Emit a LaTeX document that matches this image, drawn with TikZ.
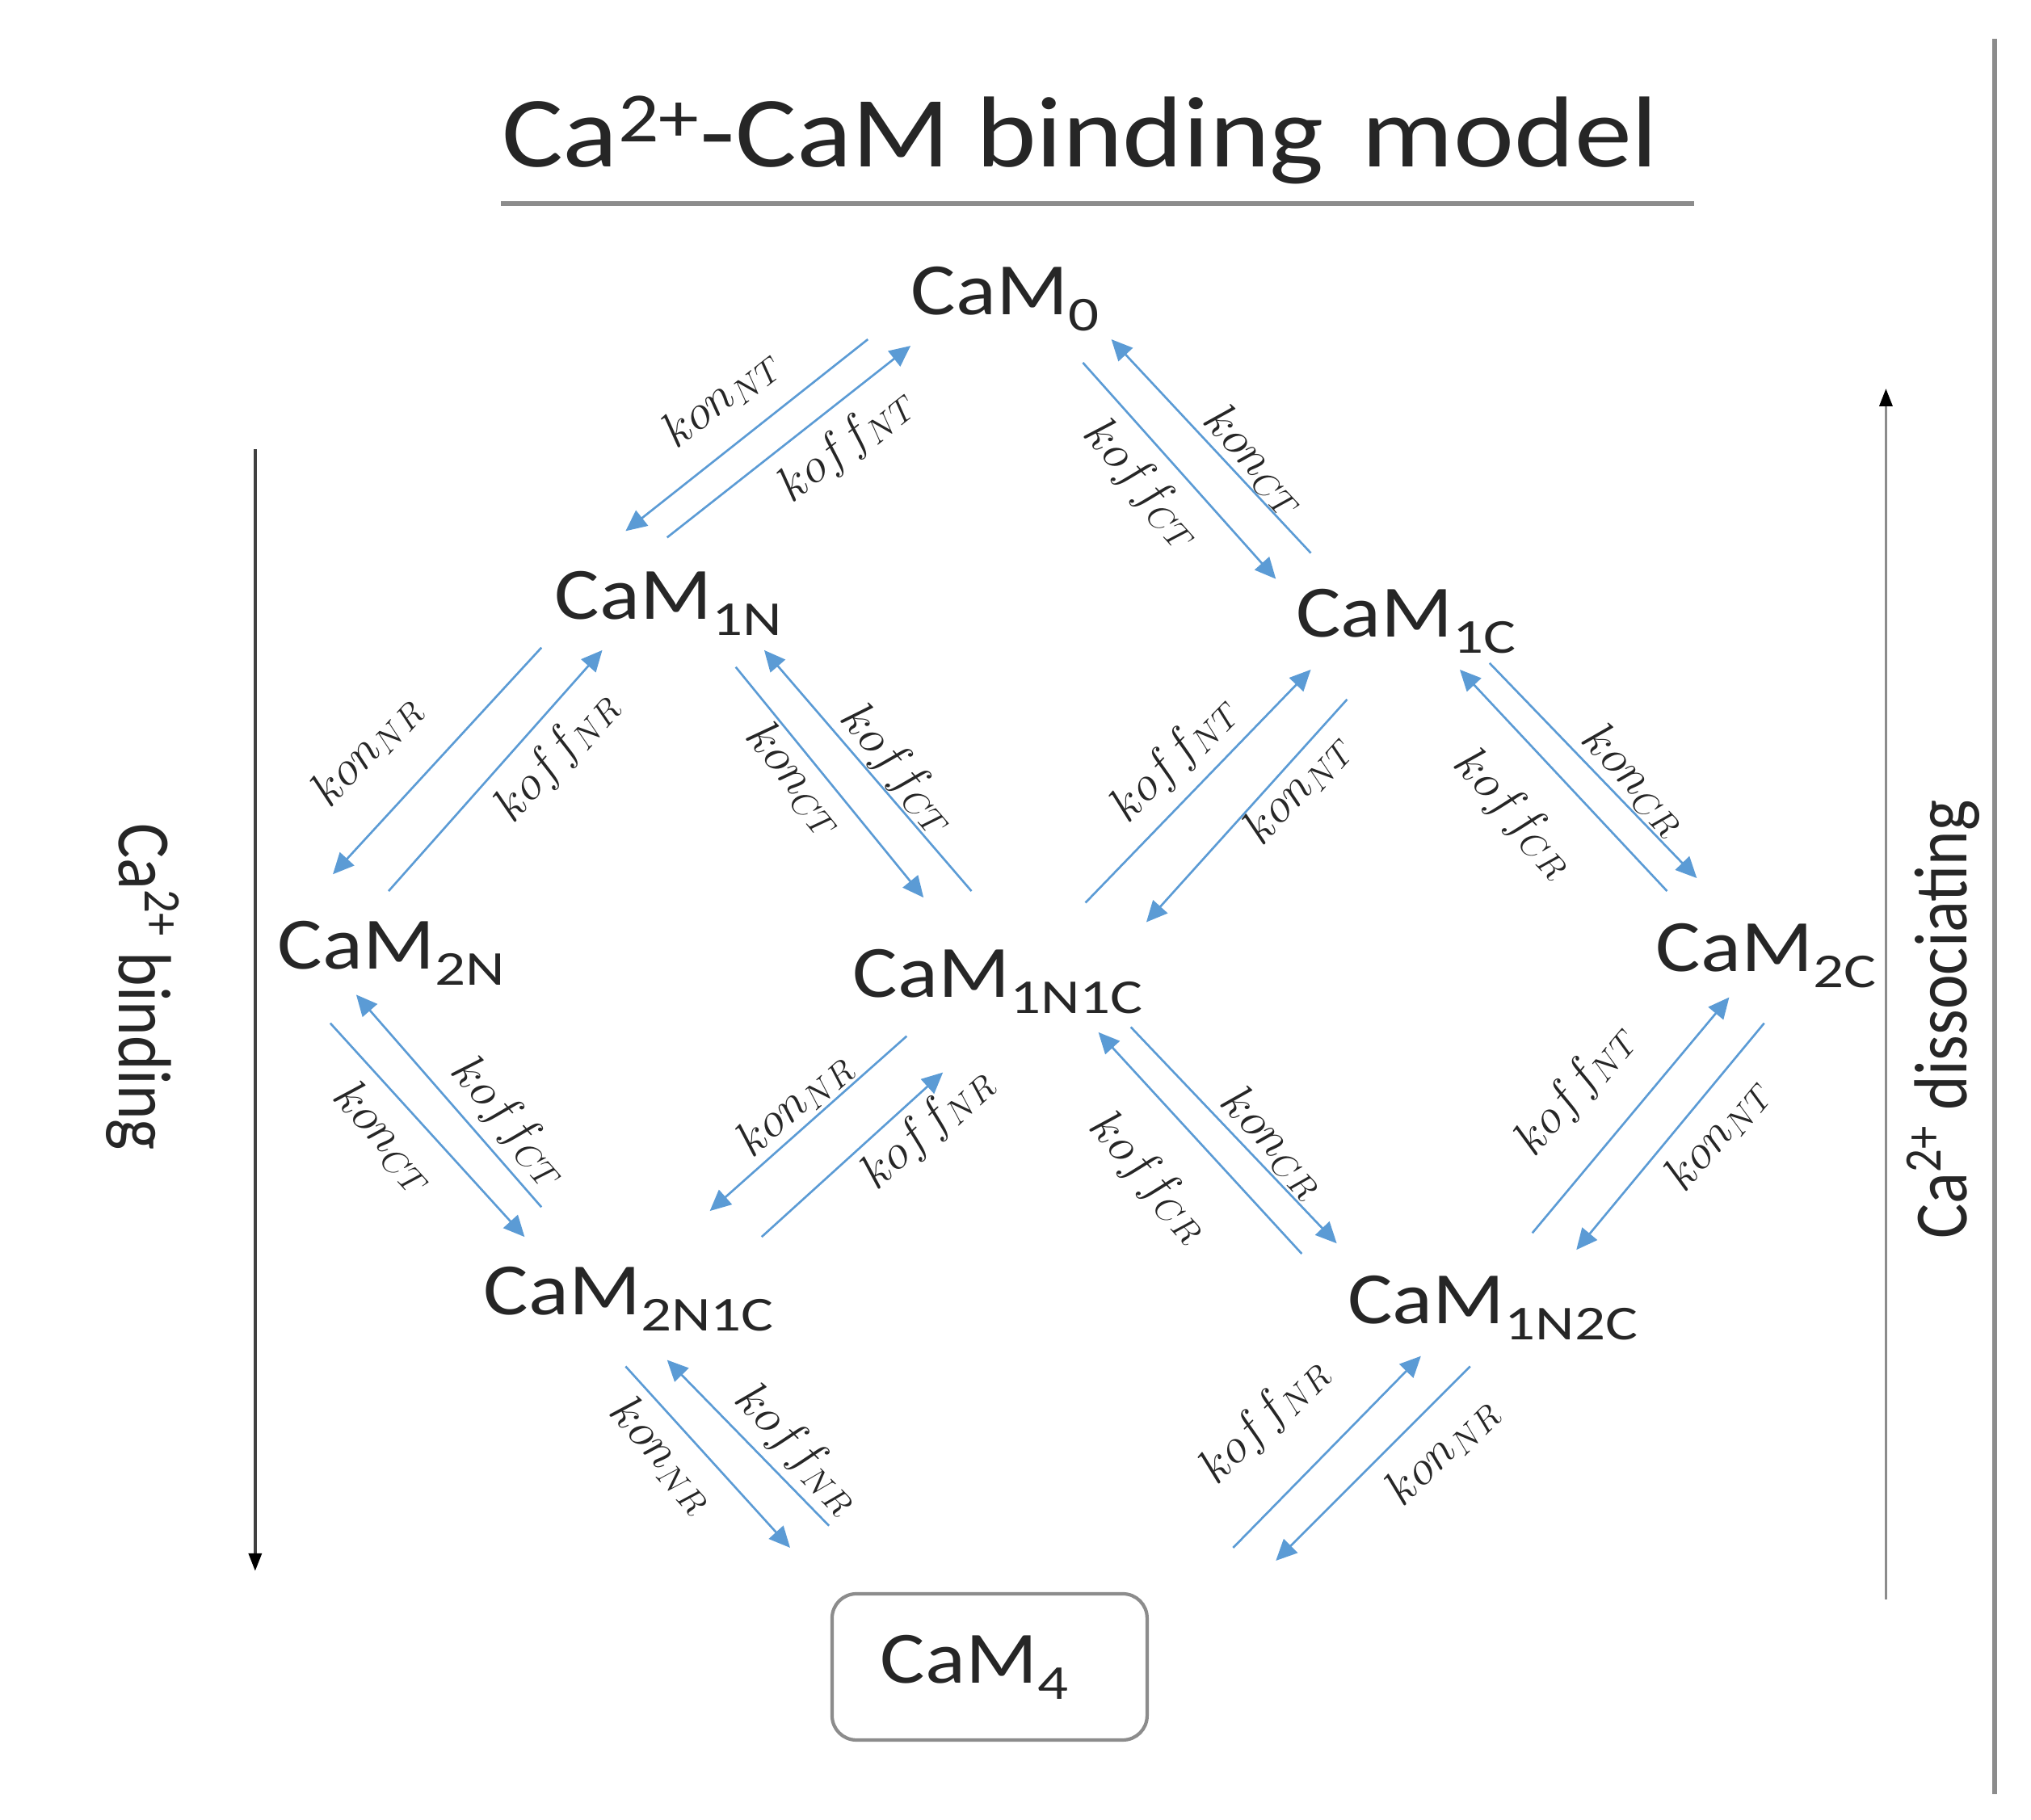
\documentclass[tikz,border=0pt]{standalone}
\usepackage{fontspec}
\setmainfont{Carlito}
\newfontfamily\widefont{Carlito}[FakeStretch=1.14]
\newfontfamily\tallfont{Carlito}[FakeStretch=0.87]
\usepackage{xcolor}
\definecolor{camBlue}{HTML}{5B9BD5}
\definecolor{camGray}{HTML}{8C8C8C}
\definecolor{camText}{HTML}{262626}
\usepackage{tikz}
\usetikzlibrary{calc,arrows.meta}

\newcommand{\cam}[1]{CaM\raisebox{-0.22em}{\scalebox{0.72}[0.66]{#1}}}
\newcommand{\kon}[1]{$kon_{#1}$}
\newcommand{\koff}[1]{$koff_{#1}$}

\begin{document}
\begin{tikzpicture}[
        x=0.016033cm, y=-0.016033cm,
        state/.style={font=\widefont\fontsize{26}{30}\selectfont, inner sep=0pt,
                      anchor=base west, text=camText},
        box/.style={draw=camGray, line width=1.2pt, rounded corners=0.3cm,
                    minimum width=3.9cm, minimum height=1.81cm, text=camText,
                    font=\widefont\fontsize{26}{30}\selectfont},
        rate/.style={font=\fontsize{18}{22}\selectfont, sloped, inner sep=2pt,
                     text=camText},
        side/.style={font=\tallfont\fontsize{26.5}{30}\selectfont, inner sep=0pt,
                     text=camText},
        flow/.style={-{Triangle[length=0.26cm, width=0.24cm]},
                     line width=0.75pt, color=camBlue},
        axis/.style={-{Triangle[length=0.22cm, width=0.16cm, color=black]},
                     line width=1pt},
        rule/.style={camGray, line width=1.8pt},
      ]
        \useasboundingbox (0,0) rectangle (1568,1405);
        % Title
        \node[font=\widefont\fontsize{35.5}{42}\selectfont, anchor=base west,
              inner sep=0pt, text=camText]
          (title) at (387,129) {Ca\textsuperscript{2+}-CaM binding\hspace{0.12em} model};
        \draw[rule] (387,157) -- (1308,157);
        % States
        \node[state] (cam0)    at (703,243)  {\cam{0}};
        \node[state] (cam1n)   at (428,478)  {\cam{1N}};
        \node[state] (cam1c)   at (1000,492) {\cam{1C}};
        \node[state] (cam2n)   at (214,748)  {\cam{2N}};
        \node[state] (cam1n1c) at (658,770)  {\cam{1N1C}};
        \node[state] (cam2c)   at (1278,750) {\cam{2C}};
        \node[state] (cam2n1c) at (373,1015) {\cam{2N1C}};
        \node[state] (cam1n2c) at (1040,1022) {\cam{1N2C}};
        \node[box]   (cam4)    at (764,1287)
          {\raisebox{0.06cm}{\cam{4}}\hspace*{0.38cm}};
        % CaM0 - CaM1N
        \draw[flow] ($(cam0.base west)+(-33,19)$) -- ($(cam1n.base west)+(55,-68)$)
          node[rate, pos=0.49, above=0.22cm] {\kon{NT}};
        \draw[flow] ($(cam1n.base west)+(87,-63)$) -- ($(cam0.base west)+(0,24)$)
          node[rate, pos=0.64, below=0.12cm] {\koff{NT}};
        % CaM0 - CaM1C
        \draw[flow] ($(cam0.base west)+(133,37)$) -- ($(cam1c.base west)+(-15,-45)$)
          node[rate, pos=0.45, below=0.1cm] {\koff{CT}};
        \draw[flow] ($(cam1c.base west)+(12,-65)$) -- ($(cam0.base west)+(155,19)$)
          node[rate, pos=0.36, above=-0.06cm] {\kon{CT}};
        % CaM1N - CaM2N
        \draw[flow] ($(cam1n.base west)+(-10,22)$) -- ($(cam2n.base west)+(43,-73)$)
          node[rate, pos=0.63, above=0.4cm] {\kon{NR}};
        \draw[flow] ($(cam2n.base west)+(86,-60)$) -- ($(cam1n.base west)+(37,24)$)
          node[rate, pos=0.66, below=0.1cm] {\koff{NR}};
        % CaM1N - CaM1N1C
        \draw[flow] ($(cam1n.base west)+(140,37)$) -- ($(cam1n1c.base west)+(55,-77)$)
          node[rate, pos=0.42, below=-0.04cm] {\kon{CT}};
        \draw[flow] ($(cam1n1c.base west)+(92,-82)$) -- ($(cam1n.base west)+(162,24)$)
          node[rate, pos=0.44, above=-0.06cm] {\koff{CT}};
        % CaM1C - CaM1N1C
        \draw[flow] ($(cam1n1c.base west)+(180,-73)$) -- ($(cam1c.base west)+(12,25)$)
          node[rate, pos=0.51, above=0.09cm] {\koff{NT}};
        \draw[flow] ($(cam1c.base west)+(40,48)$) -- ($(cam1n1c.base west)+(227,-58)$)
          node[rate, pos=0.33, below=-0.06cm] {\kon{NT}};
        % CaM1C - CaM2C
        \draw[flow] ($(cam1c.base west)+(150,20)$) -- ($(cam2c.base west)+(32,-72)$)
          node[rate, pos=0.62, above=-0.04cm] {\kon{CR}};
        \draw[flow] ($(cam2c.base west)+(9,-62)$) -- ($(cam1c.base west)+(127,25)$)
          node[rate, pos=0.53, below=0.37cm] {\koff{CR}};
        % CaM2N - CaM2N1C
        \draw[flow] ($(cam2n.base west)+(41,42)$) -- ($(cam2n1c.base west)+(32,-60)$)
          node[rate, pos=0.42, below=0.11cm] {\kon{CT}};
        \draw[flow] ($(cam2n1c.base west)+(45,-83)$) -- ($(cam2n.base west)+(61,20)$)
          node[rate, pos=0.30, above=0.04cm] {\koff{CT}};
        % CaM1N1C - CaM2N1C
        \draw[flow] ($(cam1n1c.base west)+(42,30)$) -- ($(cam2n1c.base west)+(175,-80)$)
          node[rate, pos=0.49, above=-0.04cm] {\kon{NR}};
        \draw[flow] ($(cam2n1c.base west)+(215,-60)$) -- ($(cam1n1c.base west)+(70,58)$)
          node[rate, pos=0.8, below=0.03cm] {\koff{NR}};
        % CaM1N1C - CaM1N2C
        \draw[flow] ($(cam1n1c.base west)+(215,23)$) -- ($(cam1n2c.base west)+(-8,-62)$)
          node[rate, pos=0.61, above=-0.04cm] {\kon{CR}};
        \draw[flow] ($(cam1n2c.base west)+(-35,-54)$) -- ($(cam1n1c.base west)+(190,27)$)
          node[rate, pos=0.53, below=0.4cm] {\koff{CR}};
        % CaM2C - CaM1N2C
        \draw[flow] ($(cam1n2c.base west)+(143,-70)$) -- ($(cam2c.base west)+(57,20)$)
          node[rate, pos=0.45, above=0.37cm] {\koff{NT}};
        \draw[flow] ($(cam2c.base west)+(84,40)$) -- ($(cam1n2c.base west)+(177,-57)$)
          node[rate, pos=0.39, below=0.09cm] {\kon{NT}};
        % CaM2N1C - CaM4
        \draw[flow] ($(cam2n1c.base west)+(110,40)$) -- ($(cam4)+(-154,-92)$)
          node[rate, pos=0.37, below=0.05cm] {\kon{NR}};
        \draw[flow] ($(cam4)+(-124,-109)$) -- ($(cam2n1c.base west)+(142,35)$)
          node[rate, pos=0.33, above=0.03cm] {\koff{NR}};
        % CaM1N2C - CaM4
        \draw[flow] ($(cam4)+(188,-92)$) -- ($(cam1n2c.base west)+(57,25)$)
          node[rate, pos=0.42, above=0.47cm] {\koff{NR}};
        \draw[flow] ($(cam1n2c.base west)+(95,33)$) -- ($(cam4)+(221,-82)$)
          node[rate, pos=0.29, below=0.15cm] {\kon{NR}};
        % Direction arrows
        \coordinate (bindTop) at (197,347);
        \coordinate (bindEnd) at (197,1213);
        \draw[axis, black!75] (bindTop) -- (bindEnd);
        \node[side, rotate=-90] (bindLbl) at (110,762) {Ca\textsuperscript{2+} binding};
        \coordinate (dissStart) at (1456,1235);
        \coordinate (dissEnd) at (1456,300);
        \draw[axis, camGray] (dissStart) -- (dissEnd);
        \node[side, rotate=90] (dissLbl) at (1500,787) {Ca\textsuperscript{2+} dissociating};
        \draw[rule] (1540,30) -- (1540,1385);
      \end{tikzpicture}
\end{document}
